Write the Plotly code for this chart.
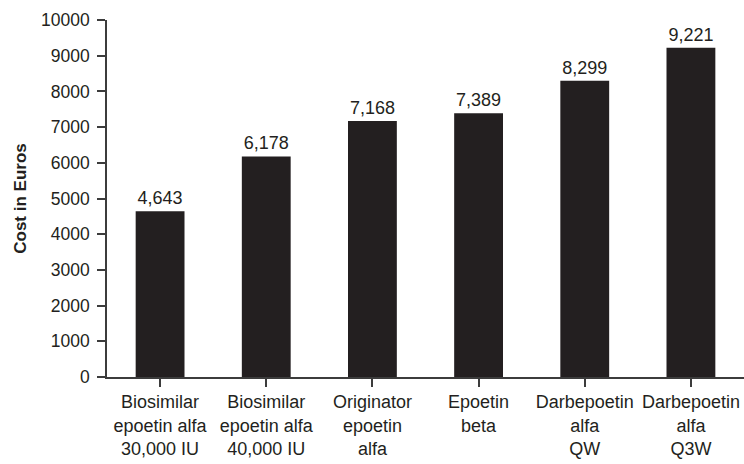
import plotly.graph_objects as go

# Treatment categories (multi-line axis labels) and annual cost per patient
categories = [
    "Biosimilar<br>epoetin alfa<br>30,000 IU",
    "Biosimilar<br>epoetin alfa<br>40,000 IU",
    "Originator<br>epoetin<br>alfa",
    "Epoetin<br>beta",
    "Darbepoetin<br>alfa<br>QW",
    "Darbepoetin<br>alfa<br>Q3W",
]
costs = [4643, 6178, 7168, 7389, 8299, 9221]
y_ticks = list(range(0, 10001, 1000))

FONT = "Arial, 'Liberation Sans', sans-serif"
INK = "#231f20"
AXIS = "#3c3c3c"

fig = go.Figure(
    go.Bar(
        x=list(range(len(categories))),
        y=costs,
        marker=dict(color=INK, line=dict(width=0)),
        width=0.46,
        text=[f"{v:,}" for v in costs],
        textposition="outside",
        textfont=dict(family=FONT, size=18, color=INK),
        cliponaxis=False,
    )
)

fig.update_layout(
    width=744,
    height=464,
    margin=dict(l=107, r=0, t=20, b=87),
    paper_bgcolor="white",
    plot_bgcolor="white",
    showlegend=False,
    font=dict(family=FONT, color=INK),
)

fig.update_xaxes(
    range=[-0.5, 5.5],
    tickmode="array",
    tickvals=list(range(len(categories))),
    ticktext=categories,
    tickson="boundaries",
    ticks="outside",
    ticklen=8,
    tickwidth=1.5,
    tickcolor=AXIS,
    ticklabelstandoff=0,
    showline=True,
    linecolor=AXIS,
    linewidth=1.5,
    showgrid=False,
    zeroline=False,
    automargin=False,
    tickfont=dict(family=FONT, size=18, color=INK),
)

fig.update_yaxes(
    range=[0, 10000],
    tickmode="array",
    tickvals=y_ticks,
    ticktext=[str(v) for v in y_ticks],
    ticks="outside",
    ticklen=8,
    tickwidth=1.5,
    tickcolor=AXIS,
    ticklabelstandoff=4,
    showline=True,
    linecolor=AXIS,
    linewidth=1.5,
    showgrid=False,
    zeroline=False,
    automargin=False,
    tickfont=dict(family=FONT, size=17.5, color=INK),
    title=dict(
        text="<b>Cost in Euros</b>",
        font=dict(family=FONT, size=17, color=INK),
        standoff=10,
    ),
)

fig.write_html("out.html")
